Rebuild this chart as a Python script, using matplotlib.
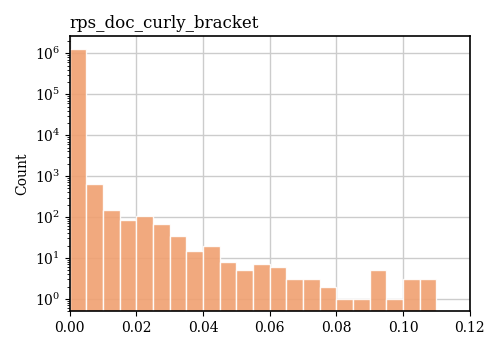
import numpy as np
import matplotlib.pyplot as plt

# bin edges and counts
bin_width = 0.005
bin_left = [0.000, 0.005, 0.010, 0.015, 0.020, 0.025, 0.030, 0.035, 0.040, 0.045, 0.050,
            0.055, 0.060, 0.065, 0.070, 0.075, 0.080, 0.085, 0.090, 0.095, 0.100, 0.105]
counts = [1250000, 630, 150, 85, 105, 67, 34, 15, 20, 8, 5,
          7, 6, 3, 3, 2, 1, 1, 5, 1, 3, 3]

plt.rcParams['font.family'] = ['DejaVu Serif']

fig, ax = plt.subplots(figsize=(5, 3.5), dpi=100)
ax.bar(bin_left, counts, width=bin_width, align='edge',
       color='#f0a070', alpha=0.9, edgecolor='white', linewidth=1, zorder=2)
ax.set_yscale('log')
ax.set_xlim(0, 0.12)
ax.set_ylim(0.5, 2.6e6)
ax.grid(True, color='#cccccc', linewidth=1, zorder=0)
ax.set_axisbelow(True)
ax.set_title('rps_doc_curly_bracket', loc='left', fontsize=12)
ax.set_ylabel('Count')
ax.tick_params(labelsize=10)
for s in ax.spines.values():
    s.set_linewidth(1.2)

plt.tight_layout()
plt.savefig('out.png')
